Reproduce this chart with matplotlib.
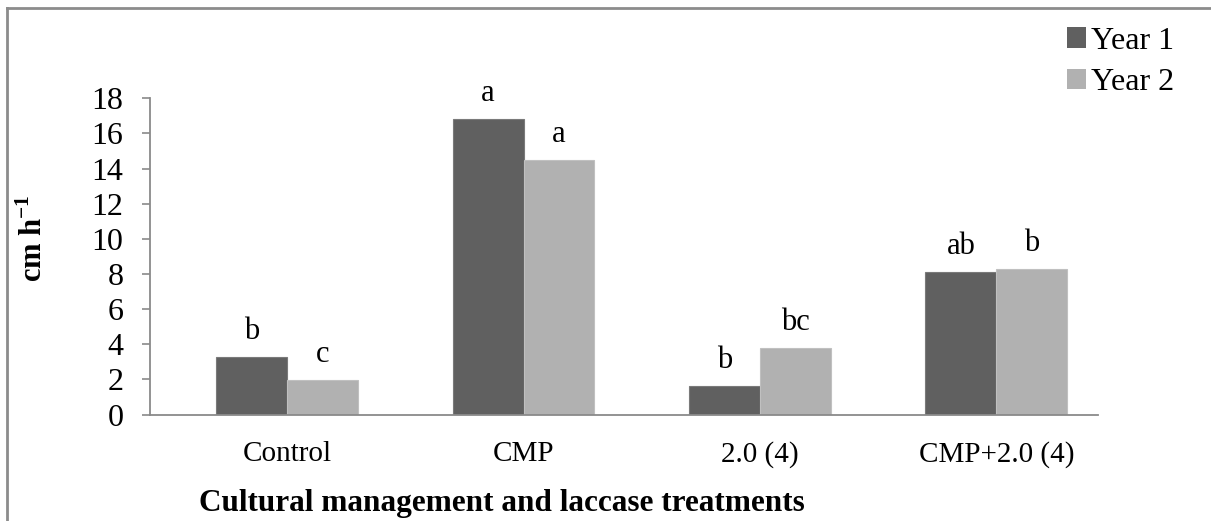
import numpy as np
import matplotlib
matplotlib.use("Agg")
import matplotlib.pyplot as plt
from matplotlib.patches import Patch
from matplotlib.lines import Line2D

plt.rcParams['font.family'] = ['Liberation Serif', 'DejaVu Serif']
plt.rcParams['mathtext.fontset'] = 'custom'
plt.rcParams['mathtext.rm'] = 'Liberation Serif'
plt.rcParams['mathtext.bf'] = 'Liberation Serif:bold'

# data
categories = ["Control", "CMP", "2.0 (4)", "CMP+2.0 (4)"]
year1 = [3.25, 16.8, 1.6, 8.1]
year2 = [1.97, 14.5, 3.8, 8.3]
letters1 = ["b", "a", "b", "ab"]
letters2 = ["c", "a", "bc", "b"]
series_names = ["Year 1", "Year 2"]

c1 = "#606060"
c2 = "#b1b1b1"
gray = "#8a8a8a"

fig = plt.figure(figsize=(12.11, 5.21), dpi=100)
ax = fig.add_axes([150 / 1211, 1 - 414.5 / 521, 948 / 1211, (414.5 - 98.3) / 521])

x = np.arange(len(categories))
w = 0.3
b1 = ax.bar(x - w / 2, year1, w, color=c1, edgecolor="#7a7a7a", linewidth=0.8)
b2 = ax.bar(x + w / 2, year2, w, color=c2, edgecolor="#c0c0c0", linewidth=0.8)

for rect, lab in zip(b1, letters1):
    ax.annotate(lab, (rect.get_x() + rect.get_width() / 2, rect.get_height()),
                xytext=(0, 13), textcoords="offset points", ha="center",
                va="baseline", fontsize=22)
for rect, lab in zip(b2, letters2):
    ax.annotate(lab, (rect.get_x() + rect.get_width() / 2, rect.get_height()),
                xytext=(0, 13), textcoords="offset points", ha="center",
                va="baseline", fontsize=22)

ax.set_ylim(0, 18)
ax.set_yticks(np.arange(0, 19, 2))
ax.set_xlim(-0.58, 3.43)
ax.set_xticks(x)
ax.set_xticklabels(categories)
ax.tick_params(axis="x", length=0, pad=19, labelsize=21)
ax.tick_params(axis="y", length=6, width=1.2, color=gray, pad=13, labelsize=23)

for s in ["top", "right"]:
    ax.spines[s].set_visible(False)
for s in ["left", "bottom"]:
    ax.spines[s].set_color(gray)
    ax.spines[s].set_linewidth(1.3)

fig.text(34 / 1211, 1 - 238 / 521, r"cm h$^{\mathbf{-1}}$", rotation=90,
         ha="center", va="center", fontsize=22, fontweight="bold")
fig.text(502 / 1211, 1 - 503 / 521, "Cultural management and laccase treatments",
         ha="center", va="center", fontsize=22.5, fontweight="bold")

handles = [Patch(facecolor=c1), Patch(facecolor=c2)]
fig.legend(handles, series_names, loc="upper right",
           bbox_to_anchor=(1187 / 1211, 1 - 14 / 521), frameon=False,
           fontsize=23, handlelength=0.6, handleheight=0.6,
           handletextpad=0.15, labelspacing=0.38, borderaxespad=0)

# outer frame (left and top edges visible)
fig.add_artist(Line2D([7 / 1211, 7 / 1211], [0, 1 - 8 / 521],
                      transform=fig.transFigure, color="#8c8c8c", linewidth=2))
fig.add_artist(Line2D([7 / 1211, 1], [1 - 8 / 521, 1 - 8 / 521],
                      transform=fig.transFigure, color="#8c8c8c", linewidth=2))

fig.savefig("out.png", dpi=100)
